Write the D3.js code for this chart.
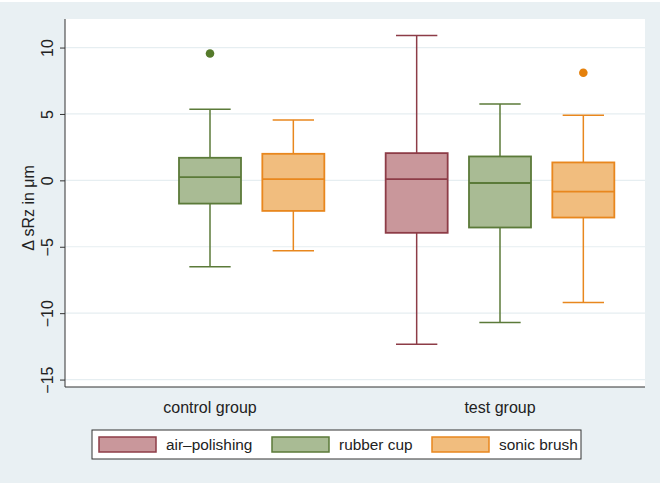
<!DOCTYPE html>
<html>
<head>
<meta charset="utf-8">
<script src="https://cdn.jsdelivr.net/npm/d3@7"></script>
<style>
  body { margin: 0; background: #fff; }
  text { font-family: "Liberation Sans", Arial, sans-serif; fill: #222; }
</style>
</head>
<body>
<div id="my_dataviz"></div>
<script>

// Categories
var groups = ["control group", "test group"];
var methods = ["air\u2013polishing", "rubber cup", "sonic brush"];

// Box statistics, one entry per drawn box
var boxGroup = ["control group", "control group", "test group", "test group", "test group"];
var boxMethod = ["rubber cup", "sonic brush", "air\u2013polishing", "rubber cup", "sonic brush"];
var lowerWhisker = [-6.5, -5.3, -12.35, -10.7, -9.2];
var q1 = [-1.75, -2.3, -3.95, -3.55, -2.8];
var median = [0.25, 0.1, 0.1, -0.2, -0.85];
var q3 = [1.7, 2.0, 2.05, 1.8, 1.35];
var upperWhisker = [5.35, 4.55, 10.9, 5.75, 4.9];

// Outside values
var outlierGroup = ["control group", "test group"];
var outlierMethod = ["rubber cup", "sonic brush"];
var outlierValue = [9.55, 8.1];

// Y axis ticks
var yTicks = [-15, -10, -5, 0, 5, 10];

var fills = ["#c9979b", "#a9bb94", "#f1bd7e"];
var strokes = ["#8d3c47", "#5b7a39", "#e8871e"];
var dotColors = ["#8d3c47", "#557a2b", "#e5810c"];

var W = 664, H = 483;
var plot = { left: 65, right: 645, top: 19, bottom: 387 };

var svg = d3.select("#my_dataviz")
    .append("svg")
    .attr("width", W)
    .attr("height", H);

// Graph region and plot region
svg.append("rect")
    .attr("x", 0).attr("y", 2)
    .attr("width", 660).attr("height", H - 2)
    .attr("fill", "#e9f0f3");
svg.append("rect")
    .attr("x", plot.left).attr("y", plot.top)
    .attr("width", plot.right - plot.left).attr("height", plot.bottom - plot.top)
    .attr("fill", "#fff");

// Scales
var y = d3.scaleLinear()
    .domain([-15.56, 12.15])
    .range([plot.bottom, plot.top]);

var x = d3.scaleBand()
    .domain(groups)
    .range([plot.left, plot.right]);

var xInner = d3.scaleBand()
    .domain(methods)
    .range([-125, 125])
    .paddingInner(0.256)
    .paddingOuter(0.128);

function centerX(g, m) {
  return x(g) + x.bandwidth() / 2 + xInner(m) + xInner.bandwidth() / 2;
}

// Grid lines
svg.append("g")
    .selectAll("line")
    .data(yTicks)
    .join("line")
    .attr("x1", plot.left)
    .attr("x2", plot.right)
    .attr("y1", function (d) { return y(d); })
    .attr("y2", function (d) { return y(d); })
    .attr("stroke", "#e6eef1")
    .attr("stroke-width", 1.2);

// Add Y axis
var yAxis = svg.append("g")
    .attr("transform", "translate(" + plot.left + ",0)")
    .call(d3.axisLeft(y).tickValues(yTicks).tickSize(5).tickSizeOuter(0)
      .tickFormat(function (d) { return d < 0 ? "\u2212" + Math.abs(d) : d; }));
yAxis.select(".domain").attr("stroke", "#333").attr("d", "M0," + plot.top + "V" + plot.bottom);
yAxis.selectAll(".tick line").attr("stroke", "#333");
yAxis.selectAll(".tick text")
    .attr("x", 0).attr("y", 0)
    .attr("dy", null)
    .attr("text-anchor", "middle")
    .attr("transform", "translate(-12,0) rotate(-90)")
    .style("font-size", "16px")
    .style("font-family", "Liberation Sans, Arial, sans-serif")
    .style("fill", "#222");

svg.append("text")
    .attr("transform", "translate(34," + ((plot.top + plot.bottom) / 2 + 5) + ") rotate(-90)")
    .attr("text-anchor", "middle")
    .style("font-size", "16px")
    .text("\u0394 sRz in \u03bcm");

// Add X axis
svg.append("line")
    .attr("x1", plot.left).attr("x2", plot.right)
    .attr("y1", plot.bottom).attr("y2", plot.bottom)
    .attr("stroke", "#333")
    .attr("stroke-width", 1.2);

svg.append("g")
    .selectAll("text")
    .data(groups)
    .join("text")
    .attr("x", function (d) { return centerX(d, "rubber cup"); })
    .attr("y", 413)
    .attr("text-anchor", "middle")
    .style("font-size", "16px")
    .text(function (d) { return d; });

// Boxes
var boxes = d3.range(boxGroup.length);
var bw = xInner.bandwidth();
var cap = bw * 2 / 3;

var box = svg.append("g")
    .selectAll("g")
    .data(boxes)
    .join("g")
    .attr("transform", function (i) { return "translate(" + centerX(boxGroup[i], boxMethod[i]) + ",0)"; });

function col(arr, i) { return arr[methods.indexOf(boxMethod[i])]; }

// whiskers
box.append("line")
    .attr("y1", function (i) { return y(q3[i]); })
    .attr("y2", function (i) { return y(upperWhisker[i]); })
    .attr("stroke", function (i) { return col(strokes, i); })
    .attr("stroke-width", 1.5);
box.append("line")
    .attr("y1", function (i) { return y(q1[i]); })
    .attr("y2", function (i) { return y(lowerWhisker[i]); })
    .attr("stroke", function (i) { return col(strokes, i); })
    .attr("stroke-width", 1.5);
box.append("line")
    .attr("x1", -cap / 2).attr("x2", cap / 2)
    .attr("y1", function (i) { return y(upperWhisker[i]); })
    .attr("y2", function (i) { return y(upperWhisker[i]); })
    .attr("stroke", function (i) { return col(strokes, i); })
    .attr("stroke-width", 1.5);
box.append("line")
    .attr("x1", -cap / 2).attr("x2", cap / 2)
    .attr("y1", function (i) { return y(lowerWhisker[i]); })
    .attr("y2", function (i) { return y(lowerWhisker[i]); })
    .attr("stroke", function (i) { return col(strokes, i); })
    .attr("stroke-width", 1.5);

// box body
box.append("rect")
    .attr("x", -bw / 2)
    .attr("width", bw)
    .attr("y", function (i) { return y(q3[i]); })
    .attr("height", function (i) { return y(q1[i]) - y(q3[i]); })
    .attr("fill", function (i) { return col(fills, i); })
    .attr("stroke", function (i) { return col(strokes, i); })
    .attr("stroke-width", 1.8);

// median
box.append("line")
    .attr("x1", -bw / 2).attr("x2", bw / 2)
    .attr("y1", function (i) { return y(median[i]); })
    .attr("y2", function (i) { return y(median[i]); })
    .attr("stroke", function (i) { return col(strokes, i); })
    .attr("stroke-width", 1.8);

// Outliers
svg.append("g")
    .selectAll("circle")
    .data(d3.range(outlierValue.length))
    .join("circle")
    .attr("cx", function (i) { return centerX(outlierGroup[i], outlierMethod[i]); })
    .attr("cy", function (i) { return y(outlierValue[i]); })
    .attr("r", 4.3)
    .attr("fill", function (i) { return dotColors[methods.indexOf(outlierMethod[i])]; });

// Legend
var legend = svg.append("g");
legend.append("rect")
    .attr("x", 92).attr("y", 430)
    .attr("width", 489).attr("height", 29)
    .attr("fill", "#fff")
    .attr("stroke", "#333")
    .attr("stroke-width", 1);

var swatchX = [99, 272, 432];
methods.forEach(function (m, k) {
  legend.append("rect")
      .attr("x", swatchX[k]).attr("y", 437)
      .attr("width", 57).attr("height", 15)
      .attr("fill", fills[k])
      .attr("stroke", strokes[k])
      .attr("stroke-width", 1.5);
  legend.append("text")
      .attr("x", swatchX[k] + 67).attr("y", 450)
      .style("font-size", "15.4px")
      .text(m);
});

</script>
</body>
</html>
